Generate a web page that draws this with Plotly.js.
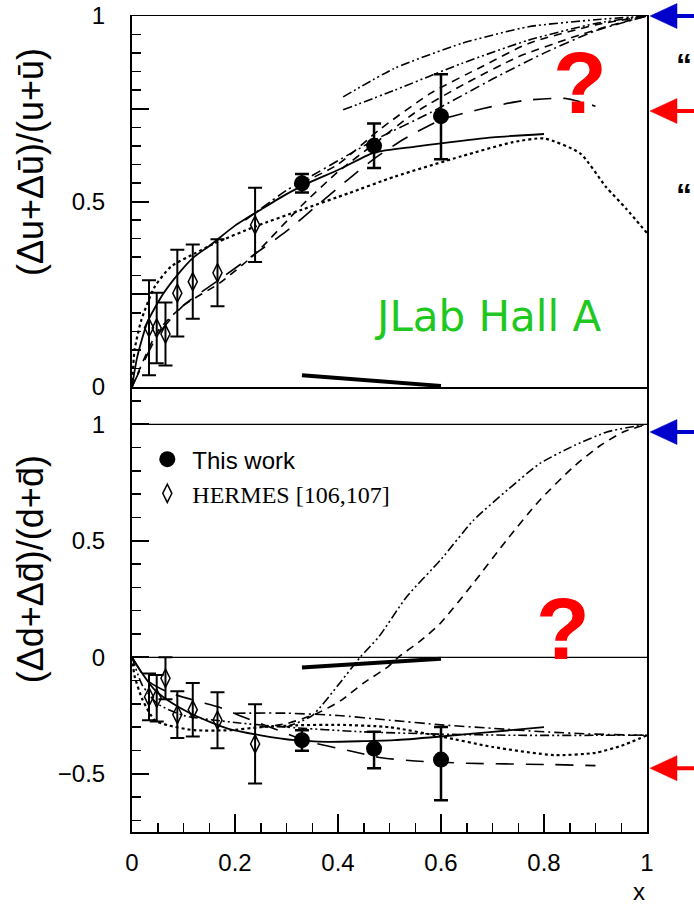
<!DOCTYPE html>
<html>
<head>
<meta charset="utf-8">
<script src="https://cdn.plot.ly/plotly-3.0.1.min.js"></script>
<style>html,body{margin:0;padding:0;background:#fff;}#chart{width:694px;height:908px;}</style>
</head>
<body>
<div id="chart"></div>
<script>
// ---------- data ----------
// "This work" (JLab Hall A)
const twX = [0.33, 0.47, 0.60];
const twU = [0.549, 0.65, 0.73];
const twUerrP = [0.025, 0.06, 0.113];
const twUerrM = [0.025, 0.06, 0.116];
const twD = [-0.356, -0.392, -0.439];
const twDerrP = [0.043, 0.072, 0.14];
const twDerrM = [0.045, 0.084, 0.175];

// HERMES [106,107]
const hmX = [0.033, 0.048, 0.065, 0.088, 0.118, 0.166, 0.239];
const hmU = [0.16, 0.159, 0.143, 0.253, 0.284, 0.308, 0.437];
const hmUerr = [0.128, 0.095, 0.085, 0.117, 0.1, 0.09, 0.1];
const hmD = [-0.17, -0.176, -0.09, -0.246, -0.225, -0.27, -0.372];
const hmDerr = [0.1, 0.1, 0.09, 0.1, 0.115, 0.12, 0.17];

// systematic bands (thick strokes near zero)
const sysX = [0.33, 0.60];
const sysU = [0.032, 0.003];
const sysD = [-0.044, -0.006];

// model curves, u quark (upper panel)
const uSolidX = [0, 0.01, 0.03, 0.06, 0.09, 0.12, 0.15, 0.2, 0.25, 0.3, 0.35, 0.4, 0.47, 0.55, 0.6, 0.7, 0.8];
const uSolidY = [0, 0.08, 0.175, 0.25, 0.305, 0.35, 0.38, 0.435, 0.478, 0.52, 0.555, 0.585, 0.632, 0.648, 0.657, 0.673, 0.682];
const uDotX = [0, 0.005, 0.018, 0.044, 0.076, 0.122, 0.16, 0.24, 0.33, 0.42, 0.51, 0.64, 0.74, 0.8, 0.87, 0.92, 0.96, 1.0];
const uDotY = [0, 0.1, 0.18, 0.27, 0.325, 0.36, 0.387, 0.433, 0.478, 0.522, 0.567, 0.622, 0.66, 0.67, 0.63, 0.54, 0.48, 0.415];
const uDashX = [0, 0.05, 0.1, 0.17, 0.24, 0.33, 0.4, 0.47, 0.55, 0.65, 0.75, 0.85, 0.93, 1.0];
const uDashY = [0, 0.15, 0.22, 0.28, 0.36, 0.49, 0.58, 0.655, 0.74, 0.82, 0.89, 0.94, 0.975, 1.0];
const uLongX = [0, 0.05, 0.1, 0.17, 0.24, 0.3, 0.36, 0.42, 0.47, 0.53, 0.6, 0.68, 0.76, 0.84, 0.9];
const uLongY = [0, 0.14, 0.22, 0.29, 0.36, 0.42, 0.49, 0.56, 0.615, 0.67, 0.72, 0.75, 0.772, 0.778, 0.757];
const uDashAX = [0.33, 0.4, 0.48, 0.58, 0.68, 0.77, 0.9, 1.0];
const uDashAY = [0.55, 0.6, 0.693, 0.792, 0.864, 0.926, 0.976, 1.0];
const uDashDotX = [0.22, 0.3, 0.35, 0.4, 0.47, 0.58, 0.7, 0.8, 0.9, 1.0];
const uDashDotY = [0.45, 0.53, 0.57, 0.61, 0.665, 0.74, 0.83, 0.9, 0.96, 1.0];
const uDdd1X = [0.41, 0.51, 0.64, 0.77, 0.9, 1.0];
const uDdd1Y = [0.782, 0.859, 0.926, 0.971, 0.99, 1.0];
const uDdd2X = [0.41, 0.51, 0.64, 0.77, 0.9, 1.0];
const uDdd2Y = [0.747, 0.8, 0.872, 0.935, 0.98, 1.0];

// model curves, d quark (lower panel)
const dSolidX = [0, 0.02, 0.044, 0.08, 0.122, 0.186, 0.25, 0.316, 0.38, 0.45, 0.51, 0.6, 0.7, 0.8];
const dSolidY = [0, -0.07, -0.14, -0.2, -0.25, -0.306, -0.335, -0.356, -0.363, -0.36, -0.356, -0.34, -0.32, -0.3];
const dDotX = [0, 0.005, 0.02, 0.044, 0.07, 0.12, 0.19, 0.25, 0.32, 0.4, 0.5, 0.6, 0.7, 0.82, 0.9, 0.95, 1.0];
const dDotY = [0, -0.08, -0.18, -0.27, -0.292, -0.313, -0.313, -0.3, -0.292, -0.29, -0.3, -0.34, -0.385, -0.42, -0.41, -0.38, -0.335];
const dFlatX = [0, 0.02, 0.05, 0.1, 0.2, 0.3, 0.45, 0.6, 0.75, 0.9, 1.0];
const dFlatY = [0, -0.12, -0.2, -0.25, -0.28, -0.3, -0.32, -0.33, -0.335, -0.335, -0.335];
const dDashDotX = [0.2, 0.3, 0.4, 0.5, 0.6, 0.7, 0.8, 0.9, 1.0];
const dDashDotY = [-0.24, -0.24, -0.25, -0.27, -0.29, -0.305, -0.32, -0.33, -0.335];
const dLongX = [0, 0.03, 0.07, 0.13, 0.17, 0.22, 0.28, 0.34, 0.42, 0.48, 0.55, 0.65, 0.8, 0.9];
const dLongY = [0, -0.1, -0.15, -0.19, -0.215, -0.26, -0.31, -0.36, -0.4, -0.43, -0.445, -0.455, -0.46, -0.465];
const dRise1X = [0.3, 0.35, 0.4, 0.443, 0.48, 0.533, 0.6, 0.663, 0.73, 0.792, 0.86, 0.922, 0.96, 1.0];
const dRise1Y = [-0.3, -0.25, -0.12, 0, 0.09, 0.259, 0.42, 0.588, 0.72, 0.832, 0.91, 0.967, 0.985, 1.0];
const dRise2X = [0.25, 0.3, 0.36, 0.406, 0.45, 0.497, 0.517, 0.56, 0.598, 0.66, 0.727, 0.79, 0.857, 0.91, 0.954, 1.0];
const dRise2Y = [-0.3, -0.285, -0.24, -0.185, -0.11, -0.041, 0, 0.07, 0.144, 0.31, 0.502, 0.67, 0.817, 0.91, 0.967, 1.0];

const xTicks = [0, 0.2, 0.4, 0.6, 0.8, 1];
const xTickText = ['0', '0.2', '0.4', '0.6', '0.8', '1'];
const uTicks = [0, 0.25, 0.5, 0.75, 1];
const uTickText = ['0', '', '0.5', '', '1'];
const dTicks = [-0.5, 0, 0.5, 1];
const dTickText = ['\u22120.5', '0', '0.5', '1'];

// limits marked by arrows on the right edge
const uArrowBlue = 1.0, uArrowRed = 0.744;
const dArrowBlue = 0.967, dArrowRed = -0.476;

// ---------- drawing ----------
const SANS = 'Liberation Sans, Arial, sans-serif';
const DASH = '8px,6px', LONG = '18px,12px', DD = '10px,4px,2px,4px', DDD = '9px,3px,2px,3px,2px,3px';

const split = 0.5453;
const uDomain = [split, 1], uRange = [0, 1];
const dDomain = [0, split], dRange = [-0.75, 1.16];

function curve(x, y, ax, dash, w) {
  return {x: x, y: y, xaxis: ax === 'u' ? 'x2' : 'x', yaxis: ax === 'u' ? 'y2' : 'y',
    type: 'scatter', mode: 'lines', showlegend: false, hoverinfo: 'skip',
    line: {color: '#000', width: w || 1.6, dash: dash, shape: 'spline', smoothing: 0.6}};
}

const traces = [
  curve(uSolidX, uSolidY, 'u', 'solid', 1.8),
  curve(uDotX, uDotY, 'u', 'dot', 2.2),
  curve(uDashX, uDashY, 'u', DASH),
  curve(uLongX, uLongY, 'u', LONG),
  curve(uDashAX, uDashAY, 'u', DASH),
  curve(uDashDotX, uDashDotY, 'u', DD),
  curve(uDdd1X, uDdd1Y, 'u', DDD),
  curve(uDdd2X, uDdd2Y, 'u', DDD),
  curve(sysX, sysU, 'u', 'solid', 4),
  curve(dSolidX, dSolidY, 'd', 'solid', 1.8),
  curve(dDotX, dDotY, 'd', 'dot', 2.2),
  curve(dFlatX, dFlatY, 'd', DDD),
  curve(dDashDotX, dDashDotY, 'd', DD),
  curve(dLongX, dLongY, 'd', LONG),
  curve(dRise1X, dRise1Y, 'd', DDD),
  curve(dRise2X, dRise2Y, 'd', DASH),
  curve(sysX, sysD, 'd', 'solid', 4),
  // data, upper panel
  {x: hmX, y: hmU, xaxis: 'x2', yaxis: 'y2', type: 'scatter', mode: 'markers', showlegend: false,
   marker: {symbol: 'diamond-tall-open', size: 13, color: '#000', line: {width: 1.5, color: '#000'}},
   error_y: {type: 'data', array: hmUerr, color: '#000', thickness: 2, width: 7}},
  {x: twX, y: twU, xaxis: 'x2', yaxis: 'y2', type: 'scatter', mode: 'markers', showlegend: false,
   marker: {symbol: 'circle', size: 16, color: '#000'},
   error_y: {type: 'data', array: twUerrP, arrayminus: twUerrM, color: '#000', thickness: 2.5, width: 7}},
  // data, lower panel (these carry the legend)
  {x: twX, y: twD, xaxis: 'x', yaxis: 'y', type: 'scatter', mode: 'markers', name: 'This work',
   marker: {symbol: 'circle', size: 16, color: '#000'},
   error_y: {type: 'data', array: twDerrP, arrayminus: twDerrM, color: '#000', thickness: 2.5, width: 7}},
  {x: hmX, y: hmD, xaxis: 'x', yaxis: 'y', type: 'scatter', mode: 'markers',
   name: '<span style="font-family:Liberation Serif, Times New Roman, serif">HERMES [106,107]</span>',
   marker: {symbol: 'diamond-tall-open', size: 13, color: '#000', line: {width: 1.5, color: '#000'}},
   error_y: {type: 'data', array: hmDerr, color: '#000', thickness: 2, width: 7}}
];

const axisCommon = {showgrid: false, zeroline: false, showline: true, linewidth: 2, linecolor: '#000',
  mirror: true, ticks: 'inside', tickcolor: '#000', tickwidth: 2,
  tickfont: {family: SANS, size: 24, color: '#000'}};

// value on a panel's y axis -> paper fraction (arrows sit outside the plot area)
function toPaper(v, dom, rng) {
  return dom[0] + (v - rng[0]) / (rng[1] - rng[0]) * (dom[1] - dom[0]);
}
function arrowShapes(yv, dom, rng, color) {
  const xTip = 1.0058, yp = toPaper(yv, dom, rng);
  return [
    {type: 'line', xref: 'paper', yref: 'paper', xsizemode: 'pixel', ysizemode: 'pixel',
     xanchor: xTip, yanchor: yp, x0: 22, x1: 70, y0: 0, y1: 0, line: {color: color, width: 4}},
    {type: 'path', xref: 'paper', yref: 'paper', xsizemode: 'pixel', ysizemode: 'pixel',
     xanchor: xTip, yanchor: yp, path: 'M0,0 L27,12.5 L27,-12.5 Z',
     fillcolor: color, line: {color: color, width: 0.5}}
  ];
}

function label(text, x, y, font, extra) {
  return Object.assign({text: text, xref: 'paper', yref: 'paper', x: x, y: y,
    xanchor: 'center', yanchor: 'middle', showarrow: false, font: font}, extra || {});
}

const layout = {
  width: 694, height: 908,
  margin: {l: 132, r: 47, t: 16, b: 76},
  paper_bgcolor: '#fff', plot_bgcolor: '#fff',
  showlegend: true,
  legend: {x: 0.02, y: 0.484, xanchor: 'left', yanchor: 'top', bgcolor: 'rgba(0,0,0,0)',
    font: {family: SANS, size: 24, color: '#000'}, itemwidth: 40, tracegroupgap: 0},
  xaxis: Object.assign({}, axisCommon, {anchor: 'y', domain: [0, 1], range: [0, 1], mirror: false,
    tickvals: xTicks, ticktext: xTickText, ticklen: 18, ticklabelstandoff: 8,
    minor: {ticks: 'inside', tick0: 0, dtick: 0.05, ticklen: 9, tickwidth: 1.5, tickcolor: '#000'}}),
  xaxis2: Object.assign({}, axisCommon, {anchor: 'y2', domain: [0, 1], range: [0, 1], matches: 'x',
    ticks: '', showticklabels: false, linewidth: 1.5}),
  yaxis: Object.assign({}, axisCommon, {anchor: 'x', domain: dDomain, range: dRange,
    tickvals: dTicks, ticktext: dTickText, ticklen: 17, ticklabelstandoff: 20,
    minor: {ticks: 'inside', tick0: 0, dtick: 0.1, ticklen: 9, tickwidth: 1.5, tickcolor: '#000'}}),
  yaxis2: Object.assign({}, axisCommon, {anchor: 'x2', domain: uDomain, range: uRange,
    tickvals: uTicks, ticktext: uTickText, ticklen: 17, ticklabelstandoff: 20,
    minor: {ticks: 'inside', tick0: 0, dtick: 0.05, ticklen: 9, tickwidth: 1.5, tickcolor: '#000'}}),
  shapes: [
    {type: 'line', xref: 'x', yref: 'y', x0: 0, x1: 1, y0: 0, y1: 0, line: {color: '#000', width: 1.2}},
    {type: 'line', xref: 'x', yref: 'y', x0: 0, x1: 1, y0: 1, y1: 1, line: {color: '#000', width: 1.2}}
  ].concat(arrowShapes(uArrowBlue, uDomain, uRange, '#0000cc'), arrowShapes(uArrowRed, uDomain, uRange, '#ff0000'),
           arrowShapes(dArrowBlue, dDomain, dRange, '#0000cc'), arrowShapes(dArrowRed, dDomain, dRange, '#ff0000')),
  annotations: [
    label('(\u0394u+\u0394\u016B)/(u+\u016B)', -0.198, 0.821, {family: SANS, size: 36, color: '#000'}, {textangle: -90}),
    label('(\u0394d+\u0394d\u0304)/(d+d\u0304)', -0.198, 0.322, {family: SANS, size: 36, color: '#000'}, {textangle: -90}),
    label('x', 0.985, -0.0735, {family: SANS, size: 24, color: '#000'}),
    label('JLab Hall A', 0.691, 0.632, {family: 'DejaVu Sans, sans-serif', size: 42, color: '#1ec81e'}),
    label('<b>?</b>', 0.87, 0.918, {family: SANS, size: 88, color: '#ff0000'}),
    label('<b>?</b>', 0.837, 0.25, {family: SANS, size: 88, color: '#ff0000'}),
    label('<b>\u201C</b>', 1.092, 0.94, {family: SANS, size: 32, color: '#000'}, {xanchor: 'right'}),
    label('<b>\u201C</b>', 1.092, 0.781, {family: SANS, size: 32, color: '#000'}, {xanchor: 'right'})
  ]
};

Plotly.newPlot('chart', traces, layout, {staticPlot: true, displayModeBar: false});
</script>
</body>
</html>
